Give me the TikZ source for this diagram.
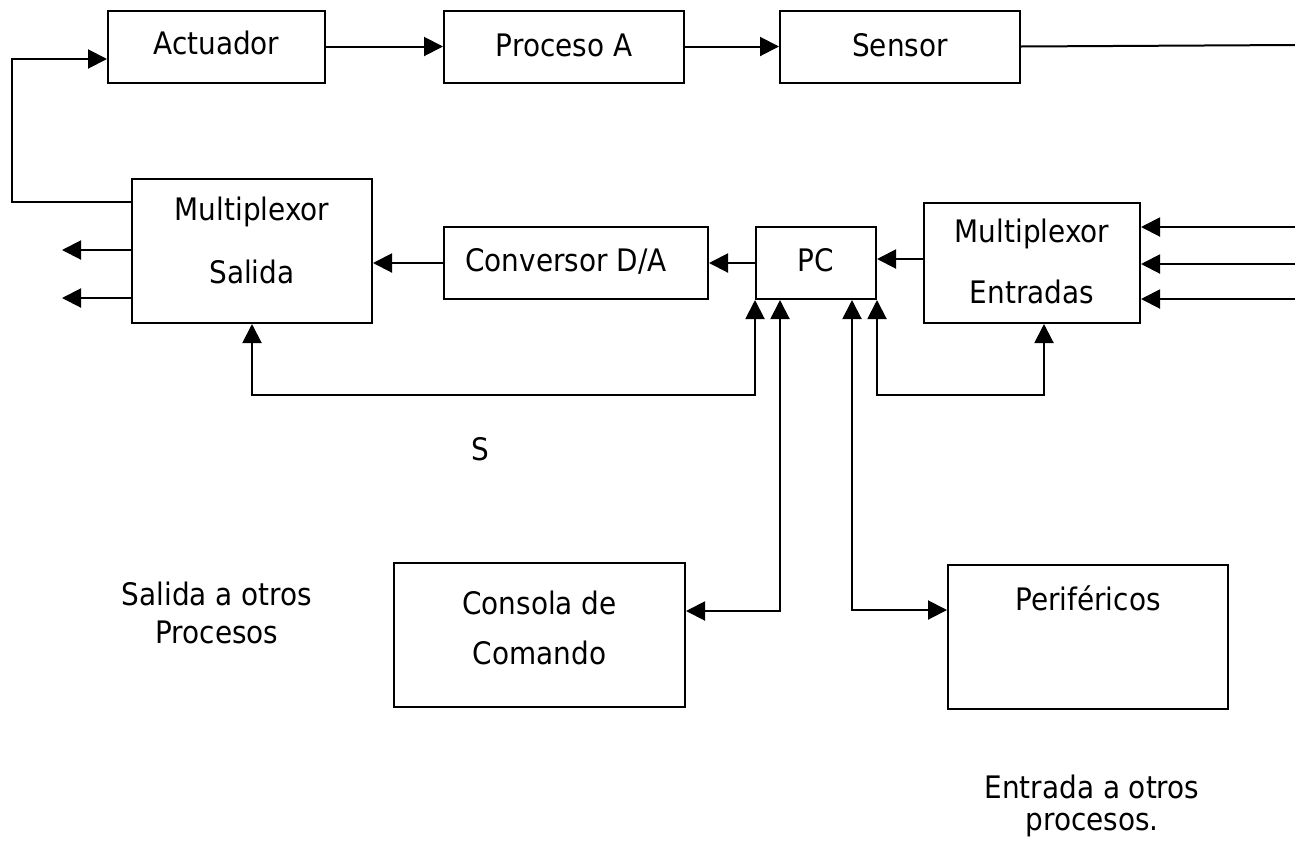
\documentclass[tikz,border=0pt]{standalone}
\usepackage{fontspec}
\setmainfont{DejaVu Sans Condensed}
\usetikzlibrary{arrows.meta}
\begin{document}
\begin{tikzpicture}[x=1pt,y=-1pt,
  every node/.style={font=\fontsize{31}{37}\selectfont, inner sep=0pt},
  blk/.style={draw, line width=2pt, rectangle},
  txt/.style={anchor=center},
  wire/.style={line width=2pt},
  tip/.style={wire, -{Triangle[length=19pt,width=19pt]}},
  dtip/.style={wire, {Triangle[length=19pt,width=19pt]}-{Triangle[length=19pt,width=19pt]}}]
\useasboundingbox (0,0) rectangle (1295,844);

% top row: actuator, process, sensor
\node[blk, minimum width=217, minimum height=72] (act) at (216.5,46.5) {};
\node[txt] (actT) at (216.5,43) {Actuador};
\node[blk, minimum width=240, minimum height=72] (proc) at (564,46.5) {};
\node[txt] (procT) at (564,45) {Proceso A};
\node[blk, minimum width=240, minimum height=72] (sen) at (900,46.5) {};
\node[txt] (senT) at (900,45) {Sensor};

% middle row
\node[blk, minimum width=240, minimum height=144] (muxs) at (252,251) {};
\node[txt] (muxsT1) at (252,212) {Multiplexor};
\node[txt] (muxsT2) at (252,272) {Salida};
\node[blk, minimum width=264, minimum height=72] (conv) at (576,263) {};
\node[txt] (convT) at (566,261) {Conversor D/A};
\node[blk, minimum width=120, minimum height=72] (pc) at (816,263) {};
\node[txt] (pcT) at (816,260) {PC};
\node[blk, minimum width=216, minimum height=120] (muxe) at (1032,263) {};
\node[txt] (muxeT1) at (1032,234) {Multiplexor};
\node[txt] (muxeT2) at (1032,292) {Entradas};

% bottom row
\node[blk, minimum width=291, minimum height=144] (cons) at (539.5,635) {};
\node[txt] (consT1) at (539.5,603) {Consola de};
\node[txt] (consT2) at (539.5,653) {Comando};
\node[blk, minimum width=280, minimum height=144] (peri) at (1088,637) {};
\node[txt] (periT) at (1088,598) {Periféricos};

% free labels
\node[txt] (sT) at (480,449) {S};
\node[txt] (salT1) at (217,594) {Salida a otros};
\node[txt] (salT2) at (217,632) {Procesos};
\node[txt] (entT1) at (1092,787) {Entrada a otros};
\node[txt] (entT2) at (1092,825) {procesos.};

% free wire ends
\coordinate (sout) at (1295,45);
\coordinate (fb) at (12,202);
\coordinate (o1) at (62,250);
\coordinate (o2) at (62,298);
\coordinate (i1) at (1295,227);
\coordinate (i2) at (1295,264);
\coordinate (i3) at (1295,299);

% signal chain
\draw[tip] (act.east) -- (proc.west);
\draw[tip] (proc.east) -- (sen.west);
\draw[wire] (sen.east) -- (sout);
\draw[tip] ([yshift=49pt]muxs.west) -- (fb) |- ([yshift=-12.5pt]act.west);
\draw[tip] ([yshift=1pt]muxs.west) -- (o1);
\draw[tip] ([yshift=-47pt]muxs.west) -- (o2);
\draw[tip] (conv.west) -- (conv.west -| muxs.east);
\draw[tip] (pc.west) -- (conv.east);
\draw[tip] ([yshift=4pt]muxe.west) -- ([yshift=4pt]muxe.west -| pc.east);
\draw[tip] (i1) -- (i1 -| muxe.east);
\draw[tip] (i2) -- (i2 -| muxe.east);
\draw[tip] (i3) -- (i3 -| muxe.east);

% control buses below the PC
\draw[dtip] (pc.south west) -- ++(0,95) -| (muxs.south);
\draw[dtip] (pc.south east) -- ++(0,95) -| ([xshift=12pt]muxe.south);
\draw[dtip] ([xshift=-36pt]pc.south) |- ([yshift=24pt]cons.east);
\draw[dtip] ([xshift=36pt]pc.south) |- ([yshift=27pt]peri.west);
\end{tikzpicture}
\end{document}
